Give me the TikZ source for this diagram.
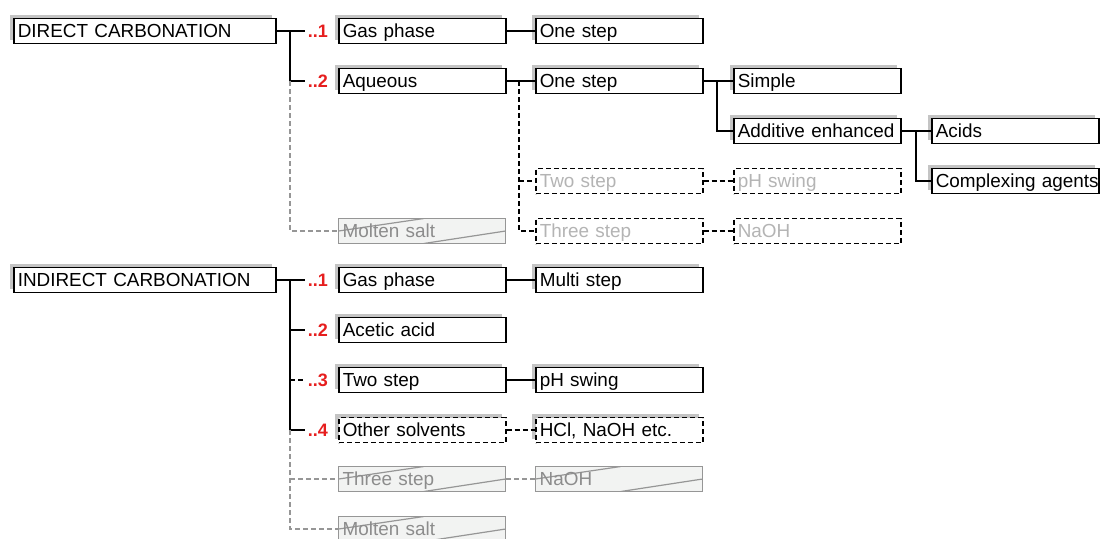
\documentclass[tikz,border=0pt]{standalone}
\usepackage{fontspec}
\setmainfont{Liberation Sans}
\usetikzlibrary{shadows,calc}
\definecolor{numred}{RGB}{230,30,30}
\definecolor{shadegray}{RGB}{196,196,196}
\definecolor{paletext}{RGB}{180,180,180}
\definecolor{strikefill}{RGB}{242,243,242}
\definecolor{strikeline}{RGB}{150,150,150}
\definecolor{striketext}{RGB}{140,140,140}
\definecolor{lightconn}{RGB}{150,150,150}

\tikzset{
  box/.style={draw=black, line width=1.5pt, fill=white, anchor=west,
    minimum height=25pt, inner xsep=4pt, inner ysep=0pt,
    text width=159pt, text height=17pt, text depth=4pt, align=left,
    font=\fontsize{18.9}{20}\selectfont},
  rootbox/.style={box, text width=254pt},
  leafbox/.style={box, text width=159pt},
  shaded/.style={general shadow={fill=shadegray, draw=none, shadow xshift=-4pt, shadow yshift=4pt}},
  dashbox/.style={box, dash pattern=on 5pt off 3pt},
  paledash/.style={dashbox, text=paletext},
  strikebox/.style={box, line width=1.3pt, draw=strikeline, fill=strikefill, text=striketext,
    path picture={\draw[strikeline, line width=1.2pt]
      (path picture bounding box.west) --
      ($(path picture bounding box.north west)!.51!(path picture bounding box.north east)$)
      ($(path picture bounding box.south west)!.51!(path picture bounding box.south east)$) --
      (path picture bounding box.east);}},
  num/.style={anchor=east, inner xsep=3pt, inner ysep=0pt, text=numred,
    font=\bfseries\fontsize{18}{19}\selectfont},
  conn/.style={draw=black, line width=1.4pt},
  dconn/.style={conn, dash pattern=on 5pt off 3pt},
  gconn/.style={draw=lightconn, line width=1.2pt, dash pattern=on 5pt off 3pt},
}

\begin{document}
\begin{tikzpicture}[x=1pt, y=-1pt]
\useasboundingbox (0,0) rectangle (1100,538);
\clip (0,0) rectangle (1100,538);

% ---------- direct carbonation ----------
\node[rootbox, shaded] (d) at (13,31) {DIRECT CARBONATION};
\node[num] (d1n) at (331,31) {..1};
\node[num] (d2n) at (331,81) {..2};
\node[box, shaded] (d1) at (338,31) {Gas phase};
\node[box, shaded] (d2) at (338,81) {Aqueous};
\node[strikebox] (d3) at (338,231) {Molten salt};

\node[box, shaded] (d11) at (535,31) {One step};
\node[box, shaded] (d21) at (535,81) {One step};
\node[paledash] (d22) at (535,181) {Two step};
\node[paledash] (d23) at (535,231) {Three step};

\node[box, shaded] (d211) at (733,81) {Simple};
\node[box, shaded] (d212) at (733,131) {Additive enhanced};
\node[paledash] (d221) at (733,181) {pH swing};
\node[paledash] (d231) at (733,231) {NaOH};

\node[leafbox, shaded] (d2121) at (931,131) {Acids};
\node[leafbox, shaded] (d2122) at (931,181) {\mbox{Complexing agents}};

\coordinate (dj) at (290,31);
\coordinate (da) at (519,81);
\coordinate (db) at (717,81);
\coordinate (dc) at (916,131);

\draw[conn] (d.east) -- (d1n.west);
\draw[conn] (dj) |- (d2n.west);
\draw[gconn] (dj |- d2n.west) |- (d3.west);
\draw[conn] (d1.east) -- (d11.west);
\draw[conn] (d2.east) -- (d21.west);
\draw[dconn] (da) |- (d23.west);
\draw[dconn] (da |- d22.west) -- (d22.west);
\draw[dconn] (d22.east) -- (d221.west);
\draw[dconn] (d23.east) -- (d231.west);
\draw[conn] (d21.east) -- (d211.west);
\draw[conn] (db) |- (d212.west);
\draw[conn] (d212.east) -- (d2121.west);
\draw[conn] (dc) |- (d2122.west);

% ---------- indirect carbonation ----------
\node[rootbox, shaded] (i) at (13,280) {INDIRECT CARBONATION};
\node[num] (i1n) at (331,280) {..1};
\node[num] (i2n) at (331,330) {..2};
\node[num] (i3n) at (331,380) {..3};
\node[num] (i4n) at (331,430) {..4};
\node[box, shaded] (i1) at (338,280) {Gas phase};
\node[box, shaded] (i2) at (338,330) {Acetic acid};
\node[box, shaded] (i3) at (338,380) {Two step};
\node[dashbox, shaded] (i4) at (338,430) {Other solvents};
\node[strikebox] (i5) at (338,479) {Three step};
\node[strikebox] (i6) at (338,529) {Molten salt};

\node[box, shaded] (i11) at (535,280) {Multi step};
\node[box, shaded] (i31) at (535,380) {pH swing};
\node[dashbox, shaded] (i41) at (535,430) {HCl, NaOH etc.};
\node[strikebox] (i51) at (535,479) {NaOH};

\coordinate (ij) at (290,280);

\draw[conn] (i.east) -- (i1n.west);
\draw[conn] (ij) |- (i4n.west);
\draw[conn] (ij |- i2n.west) -- (i2n.west);
\draw[dconn] (ij |- i3n.west) -- (i3n.west);
\draw[gconn] (ij |- i4n.west) |- (i6.west);
\draw[gconn] (ij |- i5.west) -- (i5.west);
\draw[conn] (i1.east) -- (i11.west);
\draw[conn] (i3.east) -- (i31.west);
\draw[dconn] (i4.east) -- (i41.west);
\draw[gconn] (i5.east) -- (i51.west);
\end{tikzpicture}
\end{document}
